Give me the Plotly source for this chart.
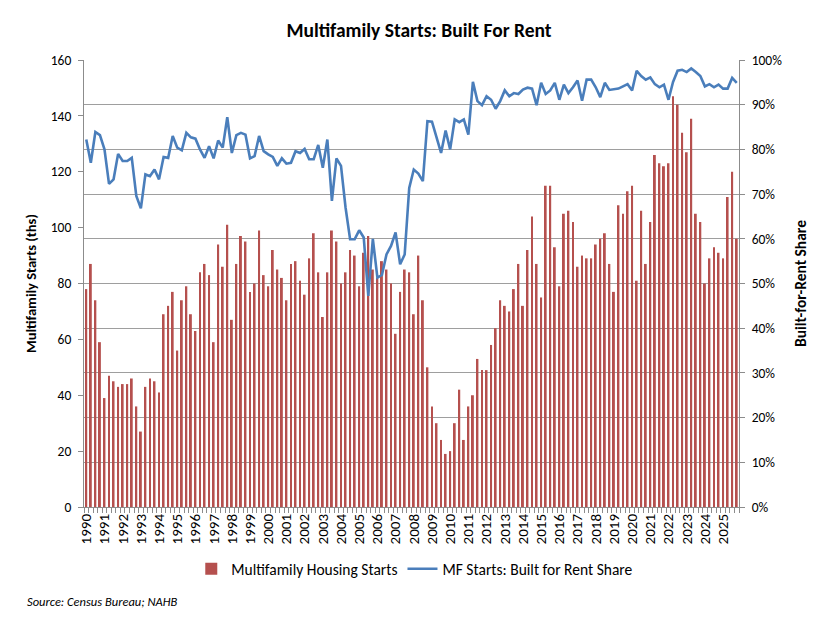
import plotly.graph_objects as go

# ---------------- data (quarterly, 1990 Q1 - 2025 Q4) ----------------
years = list(range(1990, 2026))
quarters = ["Q1", "Q2", "Q3", "Q4"]

# Multifamily housing starts, thousands (NSA, quarterly)
starts = [
    78, 87, 74, 59,    # 1990
    39, 47, 45, 43,    # 1991
    44, 44, 46, 36,    # 1992
    27, 43, 46, 45,    # 1993
    41, 69, 72, 77,    # 1994
    56, 74, 79, 69,    # 1995
    63, 84, 87, 83,    # 1996
    59, 94, 86, 101,   # 1997
    67, 87, 97, 95,    # 1998
    77, 80, 99, 83,    # 1999
    79, 92, 85, 82,    # 2000
    74, 87, 88, 81,    # 2001
    76, 89, 98, 84,    # 2002
    68, 84, 99, 95,    # 2003
    80, 84, 92, 90,    # 2004
    79, 91, 97, 85,    # 2005
    82, 88, 85, 80,    # 2006
    62, 77, 85, 84,    # 2007
    69, 90, 74, 50,    # 2008
    36, 30, 24, 19,    # 2009
    20, 30, 42, 24,    # 2010
    36, 40, 53, 49,    # 2011
    49, 58, 64, 74,    # 2012
    72, 70, 78, 87,    # 2013
    72, 92, 104, 87,   # 2014
    75, 115, 115, 93,  # 2015
    79, 105, 106, 102, # 2016
    86, 90, 89, 89,    # 2017
    94, 96, 98, 87,    # 2018
    77, 108, 105, 113, # 2019
    115, 81, 106, 87,  # 2020
    102, 126, 123, 122,# 2021
    123, 147, 144, 134,# 2022
    127, 139, 105, 102,# 2023
    80, 89, 93, 91,    # 2024
    89, 111, 120, 96,  # 2025
]

# Share of multifamily starts built for rent, percent
rent_share = [
    82.2, 77.0, 83.9, 83.2,   # 1990
    80.0, 72.3, 73.3, 79.0,   # 1991
    77.4, 77.4, 78.1, 69.6,   # 1992
    66.8, 74.4, 74.0, 75.5,   # 1993
    73.3, 78.3, 78.1, 83.0,   # 1994
    80.4, 79.8, 83.7, 82.7,   # 1995
    82.4, 80.0, 78.1, 80.7,   # 1996
    78.0, 82.0, 80.4, 87.2,   # 1997
    79.2, 83.2, 83.7, 83.3,   # 1998
    78.0, 78.5, 83.0, 79.6,   # 1999
    78.9, 78.3, 76.3, 78.0,   # 2000
    76.8, 77.0, 79.6, 79.2,   # 2001
    80.1, 77.8, 77.8, 81.0,   # 2002
    75.9, 82.2, 68.5, 78.0,   # 2003
    76.3, 67.0, 59.9, 59.9,   # 2004
    61.9, 60.3, 47.2, 60.0,   # 2005
    51.3, 51.9, 56.5, 58.4,   # 2006
    61.4, 54.3, 56.5, 71.4,   # 2007
    75.5, 74.6, 72.9, 86.3,   # 2008
    86.2, 82.7, 79.2, 84.2,   # 2009
    80.0, 86.7, 86.1, 86.7,   # 2010
    83.3, 95.1, 90.8, 89.9,   # 2011
    91.9, 91.1, 89.1, 90.8,   # 2012
    93.2, 91.9, 92.6, 92.4,   # 2013
    93.4, 93.8, 93.6, 89.9,   # 2014
    94.9, 92.4, 93.2, 94.9,   # 2015
    91.1, 94.5, 92.6, 93.9,   # 2016
    95.4, 90.9, 95.6, 95.6,   # 2017
    93.9, 91.7, 94.9, 93.3,   # 2018
    93.4, 93.6, 94.1, 94.6,   # 2019
    93.2, 97.6, 96.4, 95.6,   # 2020
    96.1, 94.6, 93.9, 94.5,   # 2021
    91.1, 95.1, 97.6, 97.8,   # 2022
    97.3, 98.1, 97.3, 96.4,   # 2023
    94.1, 94.6, 93.9, 94.5,   # 2024
    93.6, 93.6, 96.0, 94.9,   # 2025
]

period_labels = [f"{y} {q}" for y in years for q in quarters]
year_labels = [str(y) for y in years]

# ---------------- figure ----------------
FONT = "Carlito, Calibri, Lato, sans-serif"
BAR_COLOR = "#B5504E"
LINE_COLOR = "#4A7EBB"
GRID = "#9E9E9E"
AXIS = "#8C8C8C"

idx = list(range(len(period_labels)))

fig = go.Figure()
fig.add_trace(go.Bar(
    x=idx, y=starts, name="Multifamily Housing Starts",
    marker=dict(color=BAR_COLOR, line=dict(width=0)),
    width=0.42, yaxis="y", hovertext=period_labels,
))
fig.add_trace(go.Scatter(
    x=idx, y=rent_share, name="MF Starts: Built for Rent Share",
    mode="lines", line=dict(color=LINE_COLOR, width=2.6),
    yaxis="y2", hovertext=period_labels,
))

# page body has an 8px margin, so the figure is 822x611 and offset by 8px
fig.update_layout(
    width=822, height=611,
    margin=dict(l=76, r=91, t=52, b=112),
    paper_bgcolor="white", plot_bgcolor="white",
    font=dict(family=FONT, size=13, color="#000000"),
    title=dict(text="<b>Multifamily Starts: Built For Rent</b>",
               x=0.5, xanchor="center", y=0.964, yanchor="middle",
               font=dict(size=19.5, family=FONT, color="#000000")),
    showlegend=True,
    legend=dict(orientation="h", x=0.505, xanchor="center",
                y=-0.139, yanchor="middle",
                font=dict(size=15.5, family=FONT),
                itemwidth=30, tracegroupgap=0,
                bgcolor="rgba(0,0,0,0)"),
    bargap=0.55,
    xaxis=dict(
        range=[-0.5, len(idx) - 0.5],
        tickmode="array",
        tickvals=[i for i, p in enumerate(period_labels) if p.endswith("Q1")],
        ticktext=year_labels,
        tickangle=-90,
        tickfont=dict(size=15, family=FONT, color="#000000"),
        ticks="", showgrid=False, zeroline=False,
        showline=True, linecolor=AXIS, linewidth=1,
        minor=dict(tick0=-0.5, dtick=1, ticks="outside", ticklen=5,
                   tickcolor=AXIS, tickwidth=1, showgrid=False),
    ),
    yaxis=dict(
        range=[0, 160], dtick=20, tick0=0,
        showgrid=False, zeroline=False,
        showline=True, linecolor=AXIS, linewidth=1,
        ticks="outside", ticklen=5, tickcolor=AXIS,
        ticklabelstandoff=4,
        tickfont=dict(size=13.5, family=FONT),
        title=dict(text="<b>Multifamily Starts (ths)</b>",
                   font=dict(size=14.5, family=FONT), standoff=10),
    ),
    yaxis2=dict(
        range=[0, 100], dtick=10, tick0=0, ticksuffix="%",
        overlaying="y", side="right",
        showgrid=True, gridcolor=GRID, gridwidth=1,
        zeroline=False,
        showline=True, linecolor=AXIS, linewidth=1,
        ticks="outside", ticklen=5, tickcolor=AXIS,
        ticklabelstandoff=4,
        tickfont=dict(size=13.5, family=FONT),
        title=dict(text="<b>Built-for-Rent Share</b>",
                   font=dict(size=15.5, family=FONT), standoff=13),
    ),
)

fig.add_annotation(
    text="<i>Source: Census Bureau; NAHB</i>",
    xref="paper", yref="paper", x=-0.090, y=-0.211,
    xanchor="left", yanchor="middle", showarrow=False,
    font=dict(size=12.5, family=FONT, color="#000000"),
)

fig.write_html("out.html")
